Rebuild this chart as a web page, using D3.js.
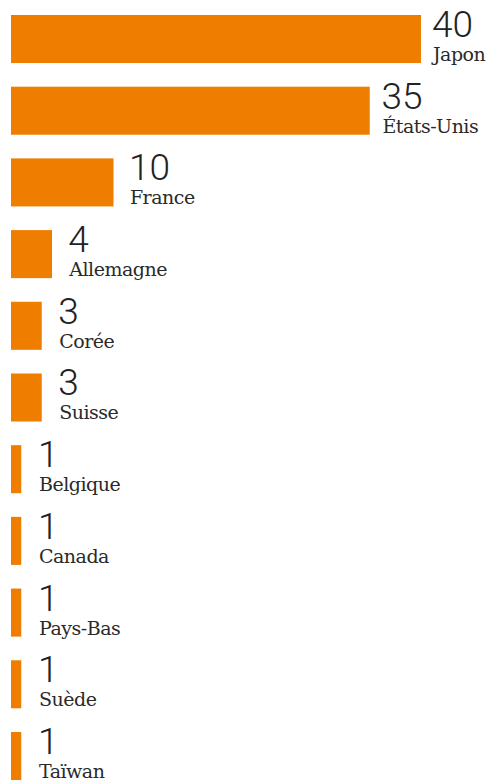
<!DOCTYPE html>
<html lang="fr">
<head>
<meta charset="UTF-8">
<title>Pays</title>
<script src="https://cdnjs.cloudflare.com/ajax/libs/d3/7.8.5/d3.min.js"></script>
<style>
    body { margin: 0; background: #fff; }
    .num { font-family: Roboto, sans-serif; font-weight: 300; font-size: 37px; fill: #222; }
    .pays { font-family: "DejaVu Serif", serif; font-size: 19px; fill: #2a2a2a; letter-spacing: -0.5px; }
</style>
</head>
<body>
<svg id="chart"></svg>
<script>
const countries = ["Japon", "États-Unis", "France", "Allemagne", "Corée", "Suisse",
                   "Belgique", "Canada", "Pays-Bas", "Suède", "Taïwan"];
const counts = [40, 35, 10, 4, 3, 3, 1, 1, 1, 1, 1];

const width = 499, height = 780;
const svg = d3.select("#chart").attr("width", width).attr("height", height);

const x = d3.scaleLinear().domain([0, 40]).range([11, 421]);
// labels sit a little further out for the short bars
const xLabel = d3.scaleLinear().domain([1, 40]).range([38, 432]);
const y = d3.scaleBand().domain(countries).range([15, 780]).paddingInner(0.33).paddingOuter(0);

const rows = svg.selectAll("g.row")
    .data(countries.map((c, i) => ({name: c, value: counts[i]})))
    .enter().append("g")
    .attr("class", "row")
    .attr("transform", d => "translate(0," + y(d.name) + ")");

rows.append("rect")
    .attr("x", x(0))
    .attr("y", 0)
    .attr("width", d => x(d.value) - x(0))
    .attr("height", y.bandwidth())
    .attr("fill", "#ef7d00");

rows.append("text")
    .attr("class", "num")
    .attr("x", d => xLabel(d.value))
    .attr("y", 22)
    .text(d => d.value);

rows.append("text")
    .attr("class", "pays")
    .attr("x", d => xLabel(d.value) + 1)
    .attr("y", 46)
    .text(d => d.name);
</script>
</body>
</html>
